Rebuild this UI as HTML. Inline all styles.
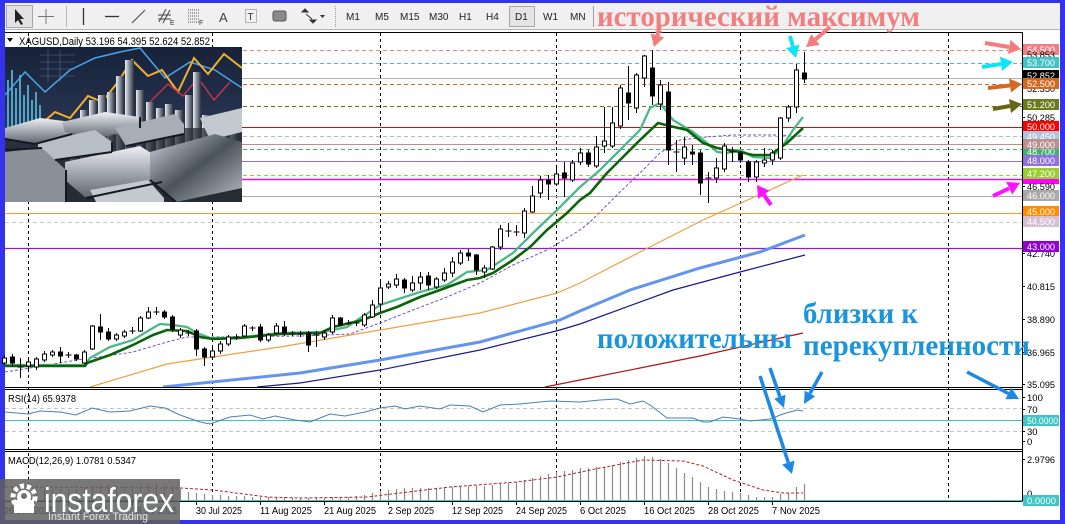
<!DOCTYPE html>
<html><head><meta charset="utf-8">
<style>
html,body{margin:0;padding:0;}
body{width:1065px;height:524px;overflow:hidden;background:#3333ee;}
svg{display:block;}
</style></head><body>
<svg width="1065" height="524" viewBox="0 0 1065 524" xmlns="http://www.w3.org/2000/svg" font-family="Liberation Sans, sans-serif">
<defs>
<clipPath id="main"><rect x="5" y="33" width="1017" height="354"/></clipPath>
<clipPath id="pic"><rect x="5" y="47" width="237" height="155"/></clipPath>
<linearGradient id="bg" x1="0" y1="0" x2="0" y2="1"><stop offset="0" stop-color="#17223a"/><stop offset="0.55" stop-color="#2a3753"/><stop offset="1" stop-color="#1c212b"/></linearGradient>
<linearGradient id="bar" x1="0" y1="0" x2="1" y2="0"><stop offset="0" stop-color="#eef0f4"/><stop offset="0.45" stop-color="#8c94a0"/><stop offset="1" stop-color="#2c323c"/></linearGradient>
<linearGradient id="ing" x1="0" y1="0" x2="0" y2="1"><stop offset="0" stop-color="#eef0f4"/><stop offset="1" stop-color="#5c646e"/></linearGradient>
<linearGradient id="ing2" x1="0" y1="0" x2="1" y2="1"><stop offset="0" stop-color="#d0d6de"/><stop offset="0.5" stop-color="#4a525c"/><stop offset="1" stop-color="#b8bec6"/></linearGradient>
</defs>

<!-- base -->
<rect x="0" y="0" width="1065" height="524" fill="#3333ee"/>
<rect x="5" y="3" width="1055" height="27" fill="#f0f0f0"/>
<line x1="5" y1="29.5" x2="1060" y2="29.5" stroke="#b4b4b4"/>
<rect x="5" y="30" width="1055" height="490" fill="#ffffff"/>

<!-- toolbar -->
<rect x="6.5" y="5.5" width="26" height="22" fill="#e2e2e2" stroke="#a8a8a8"/>
<path d="M15 9 L15 23 L18 20 L21 25 L23 24 L20 19 L24 19 Z" fill="#222"/>
<path d="M46 9V24M38 16.5H54" stroke="#777" stroke-width="1"/>
<line x1="66.5" y1="6" x2="66.5" y2="27" stroke="#b8b8b8"/>
<line x1="83.5" y1="8" x2="83.5" y2="25" stroke="#333" stroke-width="1.3"/>
<line x1="105" y1="16.5" x2="119" y2="16.5" stroke="#333" stroke-width="1.3"/>
<line x1="132" y1="23" x2="145" y2="10" stroke="#555" stroke-width="1.2"/>
<path d="M159 22L166 9M163 23L170 10M158 15H171M158 19H171" stroke="#444" stroke-width="1"/>
<text x="170" y="25" font-size="7" fill="#333">E</text>
<path d="M188 10H200M188 13H200M188 16H200M188 19H200M188 22H200" stroke="#555" stroke-dasharray="1,1"/>
<text x="199" y="25" font-size="7" fill="#333">F</text>
<text x="219" y="22" font-size="13" fill="#444">A</text>
<rect x="245.5" y="9.5" width="11" height="13" fill="none" stroke="#777" stroke-dasharray="1,1"/>
<text x="247.5" y="20" font-size="10" fill="#333">T</text>
<rect x="273" y="11" width="13" height="10" rx="2" fill="#8a8a8a" stroke="#555"/>
<path d="M302 12l3-3 3 3zM310 20l3 3 3-3zM306 14l6 5" stroke="#333" fill="#333"/>
<path d="M320 15h5l-2.5 3z" fill="#333"/>
<line x1="335.5" y1="6" x2="335.5" y2="27" stroke="#999" stroke-dasharray="1,1"/>
<g font-size="10" fill="#222">
<text x="346" y="20">M1</text><text x="375" y="20">M5</text><text x="400" y="20">M15</text><text x="429" y="20">M30</text>
<text x="459" y="20">H1</text><text x="486" y="20">H4</text>
<rect x="509.5" y="6.5" width="25" height="20" fill="#e4e4e4" stroke="#a8a8a8"/>
<text x="515" y="20">D1</text><text x="543" y="20">W1</text><text x="570" y="20">MN</text>
</g>
<line x1="593.5" y1="6" x2="593.5" y2="27" stroke="#a0a0a0"/>

<!-- grid verticals -->
<g stroke="#000" stroke-dasharray="3,3" stroke-width="1">
<line x1="28.5" y1="33" x2="28.5" y2="500"/><line x1="212.5" y1="33" x2="212.5" y2="500"/>
<line x1="380.5" y1="33" x2="380.5" y2="500"/><line x1="556.5" y1="33" x2="556.5" y2="500"/>
<line x1="740.5" y1="33" x2="740.5" y2="500"/><line x1="948.5" y1="33" x2="948.5" y2="500"/>
</g>

<!-- level lines -->
<g stroke-width="1">
<line x1="5" x2="1022" y1="50.5" y2="50.5" stroke="#f08080" stroke-dasharray="4,3"/>
<line x1="5" x2="1022" y1="63.5" y2="63.5" stroke="#3cc4c4" stroke-dasharray="4,3"/>
<line x1="5" x2="1022" y1="78.5" y2="78.5" stroke="#b4b4b4"/>
<line x1="5" x2="1022" y1="84.5" y2="84.5" stroke="#d2691e" stroke-dasharray="4,3"/>
<line x1="5" x2="1022" y1="106.5" y2="106.5" stroke="#6e7020" stroke-dasharray="4,3"/>
<line x1="5" x2="1022" y1="127.5" y2="127.5" stroke="#c81414"/>
<line x1="5" x2="1022" y1="136.5" y2="136.5" stroke="#a8bcd8" stroke-dasharray="4,3"/>
<line x1="5" x2="1022" y1="144.5" y2="144.5" stroke="#bc8f8f"/>
<line x1="5" x2="1022" y1="149.5" y2="149.5" stroke="#3cb371" stroke-dasharray="4,3"/>
<line x1="5" x2="1022" y1="161.5" y2="161.5" stroke="#9370db"/>
<line x1="5" x2="1022" y1="175.5" y2="175.5" stroke="#9acd32" stroke-dasharray="4,3"/>
<line x1="5" x2="1022" y1="179.5" y2="179.5" stroke="#e010e0" stroke-width="1.6"/>
<line x1="5" x2="1022" y1="196.5" y2="196.5" stroke="#a9a9a9"/>
<line x1="5" x2="1022" y1="213.5" y2="213.5" stroke="#ffa020"/>
<line x1="5" x2="1022" y1="222.5" y2="222.5" stroke="#c8c8c8" stroke-dasharray="4,3"/>
<line x1="5" x2="1022" y1="248.5" y2="248.5" stroke="#8b1ec8" stroke-width="1.3"/>
</g>

<!-- moving averages -->
<g clip-path="url(#main)" fill="none">
<path d="M545,387 L580,380 L700,356 L803,333" stroke="#b01010" stroke-width="1.2"/>
<path d="M257,387 L300,383 L380,370 L480,350 L560,330 L580,324 L673,290 L740,272 L805,255" stroke="#1a1a8c" stroke-width="1.2"/>
<path d="M163,387 L300,373 L380,360 L480,342 L560,320 L580,311 L630,290 L700,268 L760,252 L805,235" stroke="#6495ed" stroke-width="3"/>
<path d="M90,387 L167,364 L213,357 L280,347 L380,330 L480,313 L557,293 L580,283 L640,252 L703,220 L803,175" stroke="#eea040" stroke-width="1.2"/>
<path d="M5,372 L30,368 L83,359 L100,357 L133,352 L167,342 L187,337 L207,337 L300,336 L350,334 L380,323 L413,310 L447,297 L480,283 L513,265 L547,250 L580,230 L590,222 L620,192 L640,173 L660,153 L680,140 L707,137 L733,135 L773,135 L803,136" stroke="#7a4fc0" stroke-width="1" stroke-dasharray="3,2"/>
<path d="M5,365 L85,365 L90,358 L110,347 L133,340 L153,328 L160,324 L173,325 L187,327 L197,333 L210,338 L233,338 L280,333 L323,332 L347,327 L380,305 L420,292 L447,285 L467,272 L487,270 L513,253 L533,233 L557,210 L580,187 L600,170 L620,150 L640,130 L650,108 L660,103 L673,120 L693,132 L707,143 L717,152 L727,153 L740,150 L753,157 L770,158 L780,150 L793,130 L803,117" stroke="#4cb88a" stroke-width="2.3"/>
<path d="M5,366 L85,366 L87,363 L110,355 L133,345 L153,335 L167,330 L187,331 L200,337 L213,339 L240,338 L280,334 L320,333 L333,327 L363,320 L380,313 L397,307 L420,297 L440,290 L467,280 L480,278 L493,273 L513,260 L530,247 L547,230 L567,213 L580,200 L590,193 L607,173 L620,160 L640,140 L658,123 L670,126 L687,130 L703,143 L717,148 L740,152 L753,155 L770,155 L787,143 L803,128" stroke="#0a640a" stroke-width="2.6"/>
</g>

<!-- candles -->
<path stroke="#000" stroke-width="1" fill="none" d="M4.5 355V365M12.5 354V367M20.5 358V378M17.5 367h6M28.5 360V370M36.5 357V370M44.5 351V362M52.5 350V357M60.5 347V363M68.5 352V358M65.5 355h6M76.5 354V361M84.5 350V364M92.5 325V350M100.5 314V340M108.5 328V341M116.5 333V341M124.5 330V338M132.5 327V334M129.5 331h6M140.5 316V332M148.5 307V319M156.5 307V315M153.5 312h6M164.5 310V319M172.5 315V332M180.5 328V338M188.5 330V336M185.5 333h6M196.5 329V356M204.5 347V366M212.5 348V360M220.5 341V354M228.5 335V346M236.5 334V340M233.5 337h6M244.5 324V337M252.5 326V331M249.5 328h6M260.5 324V342M268.5 333V342M276.5 323V335M284.5 321V336M292.5 331V336M289.5 333h6M300.5 331V337M297.5 334h6M308.5 331V352M316.5 331V347M313.5 335h6M324.5 330V340M332.5 315V334M340.5 317V326M348.5 320V325M345.5 323h6M356.5 321V326M353.5 323h6M364.5 313V327M372.5 300V318M380.5 282V312M388.5 281V289M396.5 274V288M404.5 278V293M412.5 276V292M420.5 272V290M428.5 272V290M436.5 277V289M444.5 268V282M452.5 257V277M460.5 250V265M468.5 249V261M476.5 254V275M484.5 265V278M492.5 246V270M500.5 225V250M508.5 223V237M505.5 231h6M516.5 225V236M513.5 232h6M524.5 208V238M532.5 186V213M540.5 176V198M548.5 175V200M556.5 165V186M564.5 162V197M572.5 160V182M580.5 148V165M588.5 150V167M596.5 136V168M604.5 107V153M612.5 107V148M620.5 85V129M628.5 66V120M636.5 73V113M644.5 55V87M652.5 50V105M660.5 80V110M668.5 82V165M676.5 140V172M673.5 152h6M684.5 137V165M692.5 145V165M700.5 150V195M708.5 172V203M705.5 178h6M716.5 158V183M724.5 143V172M732.5 147V162M729.5 152h6M740.5 151V163M748.5 160V182M756.5 160V182M764.5 148V167M772.5 150V165M780.5 117V160M788.5 105V122M796.5 64V113M804.5 52V83"/>
<path stroke="#000" stroke-width="1" fill="#fff" d="M2.5 358h4v5h-4zM26.5 362h4v4h-4zM34.5 359h4v8h-4zM42.5 354h4v6h-4zM50.5 352h4v3h-4zM82.5 352h4v11h-4zM90.5 326h4v23h-4zM114.5 335h4v4h-4zM122.5 332h4v4h-4zM138.5 318h4v13h-4zM146.5 312h4v6h-4zM178.5 330h4v5h-4zM210.5 351h4v6h-4zM218.5 344h4v7h-4zM226.5 337h4v7h-4zM242.5 326h4v10h-4zM266.5 335h4v5h-4zM274.5 326h4v7h-4zM322.5 333h4v4h-4zM330.5 318h4v14h-4zM362.5 315h4v10h-4zM370.5 305h4v12h-4zM378.5 288h4v16h-4zM386.5 284h4v3h-4zM394.5 279h4v6h-4zM410.5 283h4v7h-4zM418.5 277h4v6h-4zM434.5 279h4v8h-4zM442.5 273h4v7h-4zM450.5 262h4v11h-4zM458.5 253h4v10h-4zM482.5 268h4v4h-4zM490.5 247h4v22h-4zM498.5 229h4v18h-4zM522.5 211h4v22h-4zM530.5 196h4v16h-4zM538.5 180h4v13h-4zM554.5 174h4v10h-4zM570.5 163h4v17h-4zM578.5 153h4v9h-4zM594.5 147h4v19h-4zM602.5 141h4v5h-4zM610.5 123h4v23h-4zM618.5 88h4v38h-4zM634.5 75h4v33h-4zM642.5 56h4v22h-4zM658.5 85h4v19h-4zM682.5 147h4v11h-4zM714.5 168h4v10h-4zM722.5 146h4v23h-4zM754.5 162h4v15h-4zM762.5 160h4v3h-4zM770.5 153h4v7h-4zM778.5 118h4v40h-4zM786.5 107h4v11h-4zM794.5 70h4v37h-4z"/>
<path stroke="#000" stroke-width="1" fill="#000" d="M10.5 357h4v6h-4zM58.5 352h4v4h-4zM74.5 355h4v4h-4zM98.5 327h4v5h-4zM106.5 332h4v7h-4zM162.5 312h4v5h-4zM170.5 317h4v12h-4zM194.5 331h4v18h-4zM202.5 349h4v8h-4zM258.5 327h4v13h-4zM282.5 327h4v6h-4zM306.5 333h4v12h-4zM338.5 318h4v7h-4zM402.5 280h4v8h-4zM426.5 276h4v9h-4zM466.5 253h4v3h-4zM474.5 255h4v15h-4zM546.5 180h4v4h-4zM562.5 173h4v5h-4zM586.5 153h4v11h-4zM626.5 93h4v10h-4zM650.5 68h4v28h-4zM666.5 92h4v58h-4zM690.5 152h4v2h-4zM698.5 153h4v30h-4zM738.5 153h4v7h-4zM746.5 162h4v15h-4zM802.5 73h4v6h-4z"/>

<!-- silver picture -->
<g clip-path="url(#pic)">
<rect x="5" y="47" width="237" height="155" fill="url(#bg)"/>
<g fill="#5ab8dc" opacity="0.85">
<rect x="7" y="80" width="2" height="50"/><rect x="11" y="70" width="2" height="60"/><rect x="15" y="88" width="2" height="42"/><rect x="19" y="75" width="2" height="55"/><rect x="23" y="95" width="2" height="35"/><rect x="27" y="85" width="2" height="45"/><rect x="31" y="100" width="2" height="30"/><rect x="35" y="92" width="2" height="38"/><rect x="39" y="105" width="2" height="25"/>
</g>
<g stroke="#7a8aa8" stroke-width="0.6" opacity="0.7"><path d="M40 55H75M40 62H75M40 69H75M40 76H75M48 50V82M60 50V82"/></g>
<path d="M5,95 L25,72 L45,92 L70,70 L95,58 L120,52 L140,48 L165,78 L190,62 L215,70 L242,88" stroke="#4aa4e6" stroke-width="1.5" fill="none"/>
<path d="M40,125 L55,112 L70,118 L88,96 L102,102 L118,82 L132,60 L148,76 L162,70 L178,92 L194,58 L208,74 L224,54 L242,68" stroke="#f0b030" stroke-width="2" fill="none"/>
<path d="M150,102 L168,84 L183,96 L198,78 L214,100 L230,82" stroke="#c03050" stroke-width="1.5" fill="none"/>
<g fill="url(#bar)">
<rect x="70" y="120" width="8" height="55"/><rect x="80" y="110" width="8" height="65"/><rect x="89" y="100" width="8" height="75"/><rect x="98" y="95" width="8" height="80"/><rect x="107" y="92" width="8" height="83"/><rect x="116" y="76" width="8" height="99"/><rect x="125" y="60" width="9" height="115"/><rect x="136" y="90" width="8" height="85"/><rect x="146" y="102" width="8" height="73"/><rect x="156" y="108" width="8" height="67"/><rect x="165" y="104" width="8" height="71"/><rect x="175" y="110" width="8" height="65"/><rect x="185" y="95" width="8" height="80"/><rect x="193" y="72" width="8" height="103"/><rect x="202" y="115" width="8" height="60"/><rect x="212" y="118" width="8" height="57"/><rect x="221" y="126" width="8" height="49"/><rect x="230" y="130" width="8" height="45"/>
</g>
<rect x="5" y="128" width="237" height="74" fill="#2a303a" opacity="0.75"/>
<polygon points="5,128 40,118 72,122 72,134 35,144 5,138" fill="url(#ing)"/>
<polygon points="62,122 105,112 140,117 140,128 100,138 65,132" fill="url(#ing)"/>
<polygon points="200,118 242,108 242,132 210,140" fill="#c4c9d0"/>
<polygon points="115,128 175,114 184,124 184,134 126,146" fill="#a8aeb8"/>
<polygon points="38,142 95,130 112,142 112,152 55,160 38,152" fill="#b8bec6"/>
<polygon points="5,152 42,148 66,170 66,202 5,202" fill="#8a9098"/>
<polygon points="65,162 140,146 162,160 162,182 86,198 65,180" fill="url(#ing)"/>
<polygon points="150,152 215,134 242,142 242,188 176,202 150,180" fill="url(#ing2)"/>
<polygon points="90,190 148,180 164,198 164,202 96,202" fill="#c4c9d0"/>
<g stroke="#141a22" stroke-width="2" fill="none"><path d="M5,139 35,144 72,134M55,160 112,152M86,198 162,182M150,180 176,202M126,146 184,134M66,170 66,202M112,142 112,152M140,128 140,117M5,150 42,148"/></g>
</g>
<rect x="5" y="33" width="238" height="13" fill="#fff"/>
<line x1="28.5" y1="33" x2="28.5" y2="46" stroke="#000" stroke-dasharray="3,3"/>
<line x1="212.5" y1="33" x2="212.5" y2="46" stroke="#000" stroke-dasharray="3,3"/>
<polygon points="7,38 13,38 10,42" fill="#000"/>
<text x="19" y="45" font-size="11" fill="#000" textLength="191" lengthAdjust="spacingAndGlyphs">XAGUSD,Daily  53.196 54.395 52.624 52.852</text>

<!-- frames -->
<g stroke="#000" stroke-width="1" fill="none">
<line x1="5" y1="32.5" x2="1022.5" y2="32.5"/>
<line x1="1022.5" y1="32" x2="1022.5" y2="501"/>
<line x1="5" y1="387.5" x2="1022.5" y2="387.5"/>
<line x1="5" y1="389.5" x2="1022.5" y2="389.5"/>
<line x1="5" y1="449.5" x2="1022.5" y2="449.5"/>
<line x1="5" y1="451.5" x2="1022.5" y2="451.5"/>
<line x1="5" y1="501.5" x2="1022.5" y2="501.5"/>
</g>

<!-- RSI -->
<line x1="5" x2="1022" y1="408.5" y2="408.5" stroke="#c4c4c4" stroke-dasharray="4,3"/>
<line x1="5" x2="1022" y1="431.5" y2="431.5" stroke="#c4c4c4" stroke-dasharray="4,3"/>
<line x1="5" x2="1022" y1="420.5" y2="420.5" stroke="#40c4c4"/>
<path d="M5,412 L28,414 L40,411 L60,412 L76,415 L92,408 L110,412 L130,411 L150,406 L165,408 L180,415 L200,422 L210,424 L230,417 L250,415 L263,419 L275,416 L295,420 L310,422 L330,414 L345,416 L365,412 L380,408 L395,406 L405,409 L420,406 L440,409 L450,405 L470,406 L483,412 L500,405 L520,404 L550,401 L580,402 L600,400 L617,399 L630,404 L643,401 L650,405 L667,418 L693,418 L703,422 L710,422 L723,417 L740,419 L750,421 L770,419 L783,414 L797,410 L803,411" fill="none" stroke="#4682b4" stroke-width="1"/>
<text x="8" y="402" font-size="10" fill="#000" textLength="68" lengthAdjust="spacingAndGlyphs">RSI(14) 65.9378</text>

<!-- MACD -->
<path stroke="#8a8a8a" stroke-width="1.2" d="M4.5 500V488M12.5 500V488M20.5 500V489M28.5 500V489M36.5 500V489M44.5 500V489M52.5 500V489M60.5 500V489M68.5 500V489M76.5 500V489M84.5 500V488M92.5 500V485M100.5 500V484M108.5 500V484M116.5 500V485M124.5 500V485M132.5 500V485M140.5 500V484M148.5 500V483M156.5 500V483M164.5 500V484M172.5 500V486M180.5 500V489M188.5 500V492M196.5 500V493M204.5 500V494M212.5 500V495M220.5 500V495M228.5 500V496M236.5 500V496M244.5 500V496M252.5 500V497M260.5 500V497M268.5 500V497M276.5 500V497M284.5 500V497M292.5 500V498M300.5 500V498M308.5 500V498M316.5 500V498M324.5 500V498M332.5 500V497M340.5 500V497M348.5 500V497M356.5 500V496M364.5 500V495M372.5 500V493M380.5 500V491M388.5 500V490M396.5 500V489M404.5 500V488M412.5 500V488M420.5 500V488M428.5 500V488M436.5 500V488M444.5 500V487M452.5 500V487M460.5 500V486M468.5 500V486M476.5 500V486M484.5 500V486M492.5 500V485M500.5 500V484M508.5 500V483M516.5 500V482M524.5 500V480M532.5 500V478M540.5 500V476M548.5 500V474M556.5 500V472M564.5 500V471M572.5 500V470M580.5 500V468M588.5 500V468M596.5 500V467M604.5 500V467M612.5 500V465M620.5 500V462M628.5 500V460M636.5 500V458M644.5 500V456M652.5 500V457M660.5 500V459M668.5 500V463M676.5 500V468M684.5 500V473M692.5 500V477M700.5 500V482M708.5 500V487M716.5 500V489M724.5 500V491M732.5 500V492M740.5 500V493M748.5 500V495M756.5 500V497M764.5 500V497M772.5 500V497M780.5 500V494M788.5 500V493M796.5 500V487M804.5 500V484"/>
<path d="M5,487 L180,488 L213,490 L267,497 L300,498 L367,497 L383,495 L450,487 L517,482 L557,477 L600,468 L643,460 L683,461 L703,466 L733,480 L763,490 L783,493 L803,493" fill="none" stroke="#b22222" stroke-width="1" stroke-dasharray="3,2"/>
<line x1="5" x2="1022" y1="500.5" y2="500.5" stroke="#40c4c4"/>
<text x="8" y="464" font-size="10" fill="#000" textLength="128" lengthAdjust="spacingAndGlyphs">MACD(12,26,9) 1.0781 0.5347</text>

<!-- right axis -->
<g stroke="#000"><path d="M1022 286.5h3M1022 319.5h3M1022 352.5h3M1022 384.5h3M1022 253.5h3M1022 186.5h3M1022 117.5h3M1022 397.5h3M1022 409.5h3M1022 431.5h3M1022 441.5h3M1022 459.5h3"/></g>
<g font-size="9.5">
<rect x="1023" y="44" width="36" height="11" fill="#f08080"/><text x="1027" y="53" fill="#fff" textLength="28" lengthAdjust="spacingAndGlyphs">54.500</text>
<text x="1027" y="58" fill="#000" textLength="28" lengthAdjust="spacingAndGlyphs">53.853</text>
<rect x="1023" y="57" width="36" height="11" fill="#40c4c4"/><text x="1027" y="66" fill="#fff" textLength="28" lengthAdjust="spacingAndGlyphs">53.700</text>
<rect x="1023" y="70" width="36" height="11" fill="#000"/><text x="1027" y="79" fill="#fff" textLength="28" lengthAdjust="spacingAndGlyphs">52.852</text>
<text x="1027" y="92" fill="#000" textLength="28" lengthAdjust="spacingAndGlyphs">52.350</text>
<rect x="1023" y="78" width="36" height="11" fill="#d2691e"/><text x="1027" y="87" fill="#fff" textLength="28" lengthAdjust="spacingAndGlyphs">52.500</text>
<rect x="1023" y="99" width="36" height="11" fill="#6b7a1e"/><text x="1027" y="108" fill="#fff" textLength="28" lengthAdjust="spacingAndGlyphs">51.200</text>
<text x="1027" y="121" fill="#000" textLength="28" lengthAdjust="spacingAndGlyphs">50.285</text>
<rect x="1023" y="121" width="36" height="11" fill="#ff0000"/><text x="1027" y="130" fill="#fff" textLength="28" lengthAdjust="spacingAndGlyphs">50.000</text>
<rect x="1023" y="131" width="36" height="11" fill="#b0c4de"/><text x="1027" y="140" fill="#fff" textLength="28" lengthAdjust="spacingAndGlyphs">49.450</text>
<rect x="1023" y="146" width="36" height="11" fill="#3cb371"/><text x="1027" y="155" fill="#fff" textLength="28" lengthAdjust="spacingAndGlyphs">48.700</text>
<rect x="1023" y="139" width="36" height="10" fill="#bc8f8f"/><text x="1027" y="148" fill="#fff" textLength="28" lengthAdjust="spacingAndGlyphs">49.000</text>
<rect x="1023" y="155" width="36" height="11" fill="#9370db"/><text x="1027" y="164" fill="#fff" textLength="28" lengthAdjust="spacingAndGlyphs">48.000</text>
<rect x="1023" y="176" width="36" height="8" fill="#ff00ff"/>
<rect x="1023" y="168" width="36" height="11" fill="#9acd32"/><text x="1027" y="177" fill="#fff" textLength="28" lengthAdjust="spacingAndGlyphs">47.200</text>
<text x="1027" y="190" fill="#000" textLength="28" lengthAdjust="spacingAndGlyphs">46.590</text>
<rect x="1023" y="190" width="36" height="11" fill="#a9a9a9"/><text x="1027" y="199" fill="#fff" textLength="28" lengthAdjust="spacingAndGlyphs">46.000</text>
<rect x="1023" y="206" width="36" height="11" fill="#ff8c00"/><text x="1027" y="215" fill="#fff" textLength="28" lengthAdjust="spacingAndGlyphs">45.000</text>
<rect x="1023" y="216" width="36" height="11" fill="#d8bfd8"/><text x="1027" y="225" fill="#fff" textLength="28" lengthAdjust="spacingAndGlyphs">44.500</text>
<text x="1027" y="257" fill="#000" textLength="28" lengthAdjust="spacingAndGlyphs">42.740</text>
<rect x="1023" y="241" width="36" height="11" fill="#9400d3"/><text x="1027" y="250" fill="#fff" textLength="28" lengthAdjust="spacingAndGlyphs">43.000</text>
<text x="1027" y="290" fill="#000" textLength="28" lengthAdjust="spacingAndGlyphs">40.815</text>
<text x="1027" y="323" fill="#000" textLength="28" lengthAdjust="spacingAndGlyphs">38.890</text>
<text x="1027" y="356" fill="#000" textLength="28" lengthAdjust="spacingAndGlyphs">36.965</text>
<text x="1027" y="388" fill="#000" textLength="28" lengthAdjust="spacingAndGlyphs">35.095</text>
<text x="1027" y="401" fill="#000">100</text>
<text x="1027" y="413" fill="#000">70</text>
<rect x="1023" y="415" width="36" height="11" fill="#40c4c4"/><text x="1027" y="424" fill="#fff" textLength="31" lengthAdjust="spacingAndGlyphs">50.0000</text>
<text x="1027" y="435" fill="#000">30</text>
<text x="1027" y="445" fill="#000">0</text>
<text x="1027" y="463" fill="#000" textLength="28" lengthAdjust="spacingAndGlyphs">2.9796</text>
<text x="1027" y="497" fill="#000">0</text>
<rect x="1023" y="495" width="36" height="11" fill="#40c4c4"/><text x="1027" y="504" fill="#fff" textLength="29" lengthAdjust="spacingAndGlyphs">0.0000</text>
</g>

<!-- date axis -->
<g stroke="#000"><path d="M4.5 501v4M68.5 501v4M132.5 501v4M196.5 501v4M260.5 501v4M324.5 501v4M388.5 501v4M452.5 501v4M516.5 501v4M580.5 501v4M644.5 501v4M708.5 501v4M772.5 501v4"/></g>
<g font-size="10" fill="#000">
<text x="4" y="514" textLength="50" lengthAdjust="spacingAndGlyphs">26 Jun 2025</text>
<text x="68" y="514" textLength="40" lengthAdjust="spacingAndGlyphs">8 Jul 2025</text>
<text x="132" y="514" textLength="45" lengthAdjust="spacingAndGlyphs">18 Jul 2025</text>
<text x="196" y="514" textLength="46" lengthAdjust="spacingAndGlyphs">30 Jul 2025</text>
<text x="260" y="514" textLength="52" lengthAdjust="spacingAndGlyphs">11 Aug 2025</text>
<text x="324" y="514" textLength="52" lengthAdjust="spacingAndGlyphs">21 Aug 2025</text>
<text x="388" y="514" textLength="46" lengthAdjust="spacingAndGlyphs">2 Sep 2025</text>
<text x="452" y="514" textLength="51" lengthAdjust="spacingAndGlyphs">12 Sep 2025</text>
<text x="516" y="514" textLength="51" lengthAdjust="spacingAndGlyphs">24 Sep 2025</text>
<text x="580" y="514" textLength="46" lengthAdjust="spacingAndGlyphs">6 Oct 2025</text>
<text x="644" y="514" textLength="51" lengthAdjust="spacingAndGlyphs">16 Oct 2025</text>
<text x="708" y="514" textLength="51" lengthAdjust="spacingAndGlyphs">28 Oct 2025</text>
<text x="772" y="514" textLength="48" lengthAdjust="spacingAndGlyphs">7 Nov 2025</text>
</g>

<!-- annotations -->
<g font-family="Liberation Serif, serif" font-weight="bold" font-size="30">
<text x="597" y="26" fill="#f08080" textLength="323" lengthAdjust="spacingAndGlyphs">исторический максимум</text>
<text x="597" y="348" fill="#1a94dc" textLength="195" lengthAdjust="spacingAndGlyphs">положительны</text>
<text x="803" y="323" fill="#1a94dc" textLength="115" lengthAdjust="spacingAndGlyphs">близки к</text>
<text x="803" y="355" fill="#1a94dc" textLength="227" lengthAdjust="spacingAndGlyphs">перекупленности</text>
</g>
<!-- salmon arrows -->
<g stroke="#f47c7c" stroke-width="4" fill="#f47c7c">
<line x1="660" y1="25" x2="657.4" y2="35.5"/><polygon points="654,47 650.7,33.5 664.1,37.5" stroke="none"/>
<line x1="830" y1="27" x2="815.4" y2="39.5"/><polygon points="806,47 811.1,34.1 819.8,45" stroke="none"/>
<line x1="985" y1="43" x2="1009" y2="47"/><polygon points="1021,49 1008,54 1010.4,40" stroke="none"/>
</g>
<g stroke="#10e4f4" stroke-width="4" fill="#10e4f4">
<line x1="790" y1="36" x2="792.8" y2="46.4"/><polygon points="796,58 786,48.2 799.5,44.6" stroke="none"/>
<line x1="982" y1="67" x2="1001" y2="64"/><polygon points="1013,62 1002,71 1000,56.6" stroke="none"/>
</g>
<g stroke="#d2691e" stroke-width="4" fill="#d2691e">
<line x1="988" y1="88" x2="1010" y2="85.5"/><polygon points="1022,84 1011,92.5 1009,78.5" stroke="none"/>
</g>
<g stroke="#666614" stroke-width="4" fill="#666614">
<line x1="993" y1="109" x2="1010" y2="106"/><polygon points="1022,104 1011,113 1009,99" stroke="none"/>
</g>
<g stroke="#ff10ff" stroke-width="4" fill="#ff10ff">
<line x1="993" y1="196" x2="1009" y2="188.5"/><polygon points="1020,183 1012.2,194.5 1006.2,181.9" stroke="none"/>
<line x1="771" y1="205" x2="763.9" y2="194.8"/><polygon points="757,185 769.6,190.8 758.2,198.8" stroke="none"/>
</g>
<!-- blue arrows -->
<g stroke="#1e88e5" stroke-width="3.5" fill="#1e88e5">
<line x1="770" y1="368" x2="779.9" y2="396.7"/><polygon points="784,408 774.2,398.8 785.5,394.7" stroke="none"/>
<line x1="822" y1="372" x2="809.9" y2="393.5"/><polygon points="804,404 804.7,390.6 815.1,396.5" stroke="none"/>
<line x1="760" y1="376" x2="788.3" y2="462.6"/><polygon points="792,474 782.1,464.6 794.5,460.6" stroke="none"/>
<line x1="967" y1="372" x2="1008.4" y2="393.5"/><polygon points="1019,399 1005.4,399.2 1011.4,387.7" stroke="none"/>
</g>

<!-- logo -->
<rect x="0" y="479" width="180" height="45" fill="#606060" opacity="0.85"/>
<g fill="#fff">
<circle cx="24" cy="497" r="11" fill="none" stroke="#fff" stroke-width="5" stroke-dasharray="4,2.8"/>
<circle cx="24" cy="497" r="7"/>
<rect x="14" y="500" width="20" height="13"/>
<circle cx="24" cy="496" r="3" fill="#707070"/>
<text x="44" y="512" font-size="34" textLength="130" lengthAdjust="spacingAndGlyphs">instaforex</text>
<text x="48" y="520" font-size="11" fill="#e6e6e6" textLength="100" lengthAdjust="spacingAndGlyphs">Instant Forex Trading</text>
</g>
</svg>
</body></html>
